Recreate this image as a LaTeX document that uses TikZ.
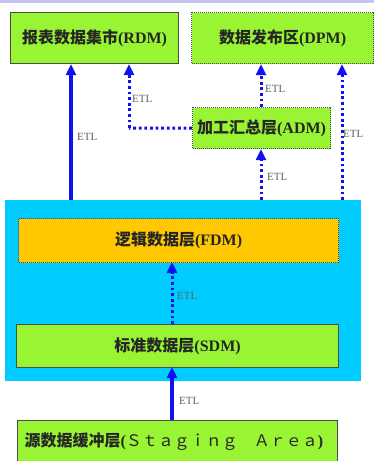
\documentclass[tikz,border=0pt]{standalone}
\usepackage{fontspec}
\newfontfamily\cjk{Noto Sans CJK SC}
\setmainfont{Liberation Serif}
\usetikzlibrary{arrows.meta}
\definecolor{lime}{HTML}{99F433}
\definecolor{cyanbg}{HTML}{00CCFF}
\definecolor{orangebox}{HTML}{FFC800}
\definecolor{etlblue}{HTML}{1010F0}
\definecolor{etlgray}{HTML}{606060}
\definecolor{lav}{HTML}{C4C4F2}
\tikzset{
  layerbox/.style={draw=black!70, line width=1.2pt, fill=lime, anchor=north west, inner sep=0pt},
  dotbox/.style={draw=black!70, line width=1pt, dash pattern=on 1pt off 1pt, anchor=north west, inner sep=0pt},
  boxtext/.style={font=\bfseries\fontsize{16}{17}\selectfont, text=black!85},
  solidarrow/.style={draw=etlblue, line width=3.2pt, -{Triangle[length=11pt,width=10pt]}},
  dotarrow/.style={draw=etlblue, line width=3pt, dash pattern=on 2.8pt off 2.8pt, -{Triangle[length=11pt,width=10pt]}},
  dotline/.style={draw=etlblue, line width=3pt, dash pattern=on 2.8pt off 2.8pt},
  etl/.style={font=\fontsize{11}{12}\selectfont, text=etlgray, inner sep=1pt, anchor=west},
}
\begin{document}
\begin{tikzpicture}[x=1pt,y=-1pt]
\useasboundingbox (0,0) rectangle (374,461);
\clip (0,0) rectangle (374,461);
\fill[white] (0,0) rectangle (374,461);
\fill[lav] (0,0) rectangle (374,3);
% cyan container
\fill[cyanbg] (5,200) rectangle (361,381);
% boxes
\node[layerbox, minimum width=168pt, minimum height=51pt] (rdm) at (10,12) {};
\node[boxtext] at (rdm.center) {{\cjk\bfseries 报表数据集市}(RDM)};
\node[layerbox, draw=none, minimum width=182pt, minimum height=51pt] (dpm) at (191,12) {};
\node[dotbox, minimum width=182pt, minimum height=51pt] at (191,12) {};
\node[boxtext] at (dpm.center) {{\cjk\bfseries 数据发布区}(DPM)};
\node[layerbox, draw=none, minimum width=138pt, minimum height=41pt] (adm) at (192,107) {};
\node[dotbox, minimum width=138pt, minimum height=41pt] at (192,107) {};
\node[boxtext] at (adm.center) {{\cjk\bfseries 加工汇总层}(ADM)};
\node[layerbox, draw=none, fill=orangebox, minimum width=320pt, minimum height=44pt] (fdm) at (18,218) {};
\node[dotbox, minimum width=320pt, minimum height=44pt] at (18,218) {};
\node[boxtext] at (fdm.center) {{\cjk\bfseries 逻辑数据层}(FDM)};
\node[layerbox, minimum width=322pt, minimum height=43pt] (sdm) at (16,324) {};
\node[boxtext] at (sdm.center) {{\cjk\bfseries 标准数据层}(SDM)};
\node[layerbox, minimum width=320pt, minimum height=50pt] (stg) at (17,420) {};
\node[boxtext, anchor=west] at (21,442) {{\cjk\bfseries 源数据缓冲层}({\cjk\mdseries Ｓｔａｇｉｎｇ　Ａｒｅａ})};
% coordinates
\coordinate (c1) at (71,200);
\coordinate (c2) at (261,200);
\coordinate (c3) at (342,200);
\coordinate (bend) at (129,128);
% connectors
\draw[solidarrow] (c1) -- (c1 |- rdm.south);
\node[etl] at (76,137) {ETL};
\draw[dotline] (adm.west) -- (bend);
\draw[dotarrow] (bend) -- (bend |- rdm.south);
\node[etl] at (131,99) {ETL};
\draw[dotarrow] (adm.north -| c2) -- (c2 |- dpm.south);
\node[etl] at (264,89) {ETL};
\draw[dotarrow] (c2) -- (c2 |- adm.south);
\node[etl] at (266,177) {ETL};
\draw[dotarrow] (c3) -- (c3 |- dpm.south);
\node[etl] at (342,134) {ETL};
\draw[dotarrow] (sdm.north -| 172,0) -- (172,262);
\node[etl] at (176,296) {ETL};
\draw[solidarrow] (stg.north -| 172,0) -- (172,367);
\node[etl] at (178,401) {ETL};
\end{tikzpicture}
\end{document}
